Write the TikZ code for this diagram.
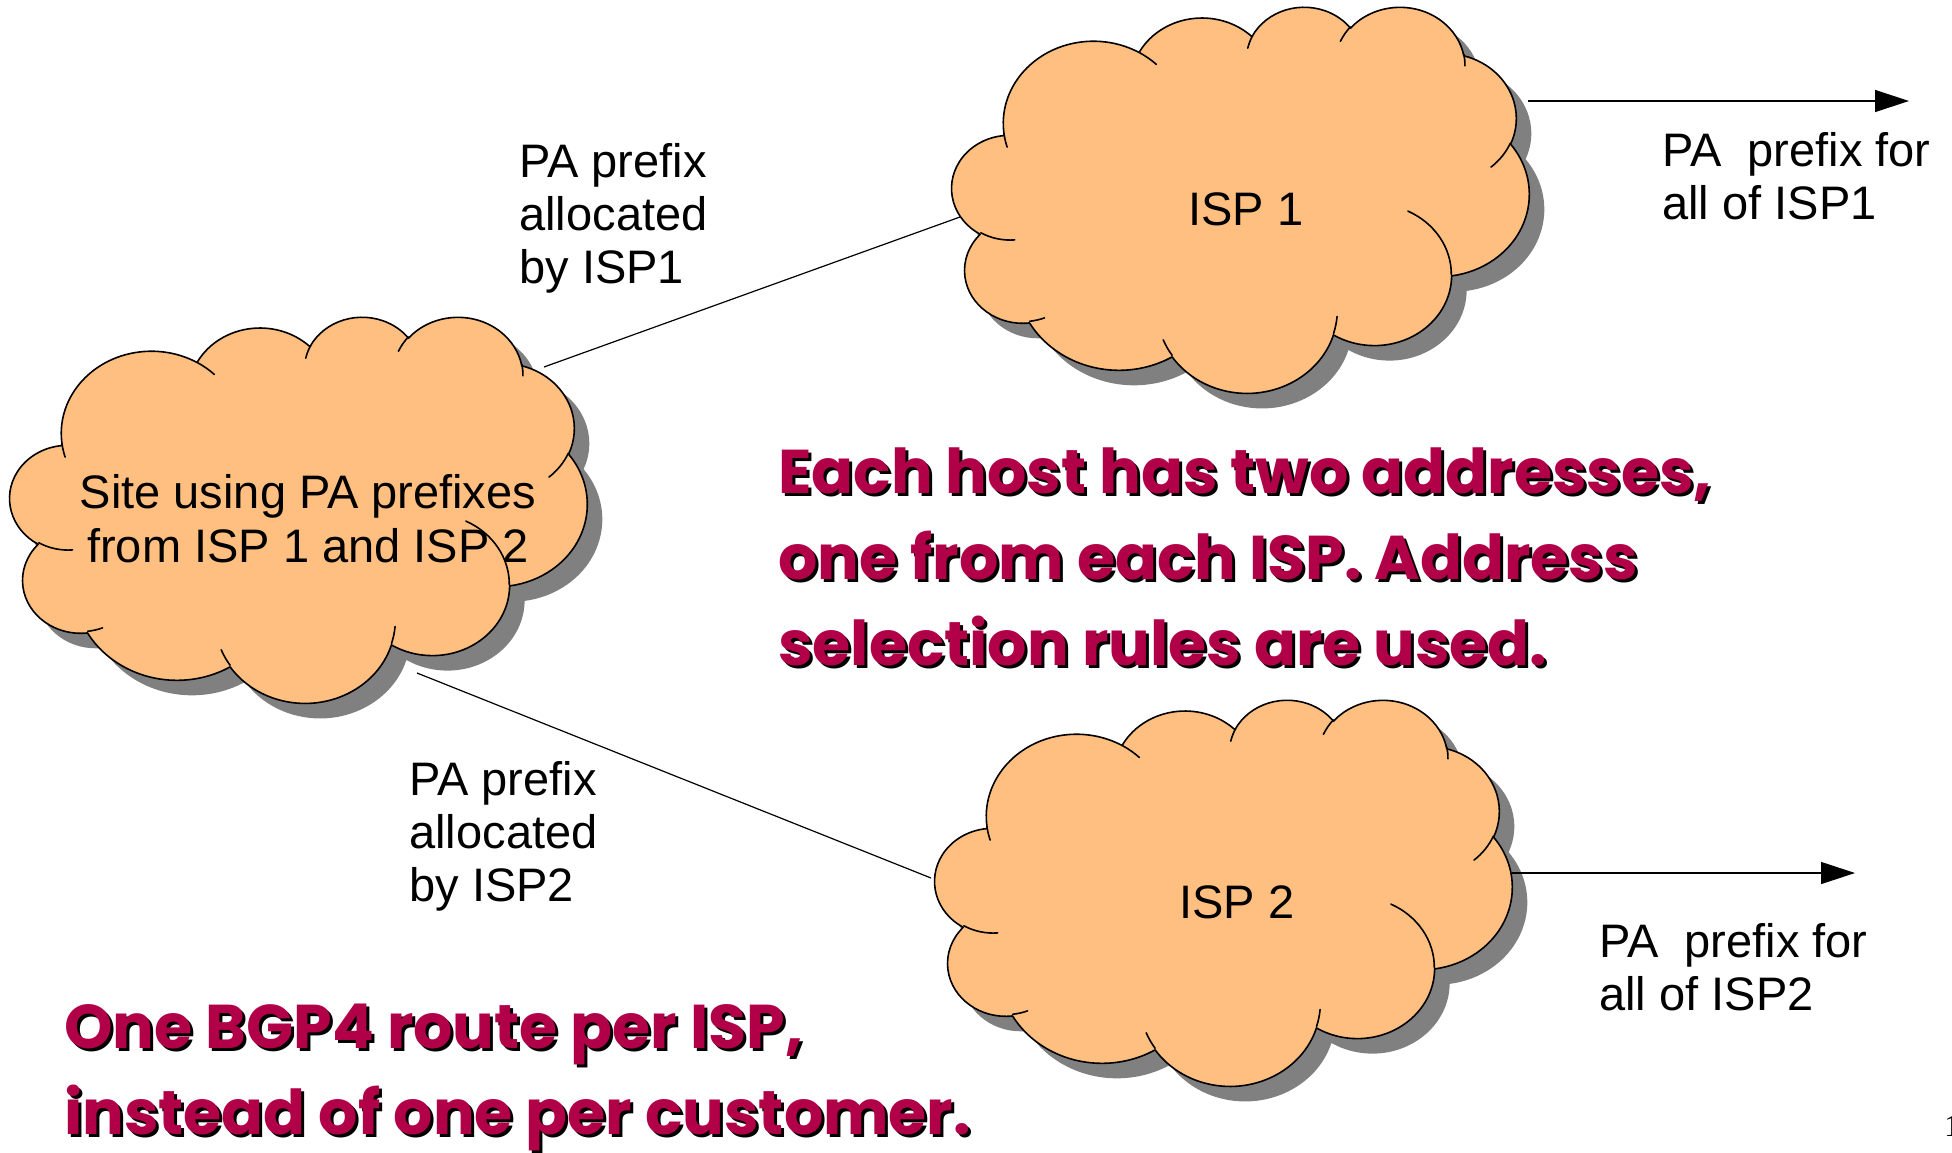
\documentclass[tikz,border=0pt]{standalone}
\usepackage{fontspec}
\setmainfont{Liberation Sans}
\newfontfamily\notefont{Poppins}
\newfontfamily\pagefont{Liberation Serif}
\usetikzlibrary{arrows.meta}

\definecolor{cloudorange}{RGB}{255,191,128}
\definecolor{cloudshade}{RGB}{128,128,128}
\definecolor{noteink}{RGB}{178,0,72}

% One elliptic arc of the cloud outline, given as in a 4320x4320 frame:
% radii, start angle and sweep measured as true (visual) angles.
% The style stores the equivalent parametric angles for TikZ's arc.
\newcommand\cloudarc[5]{%
  \pgfmathsetmacro\cloudS{atan2(#2*sin(#4),#3*cos(#4))}%
  \pgfmathsetmacro\cloudE{atan2(#2*sin(#4+#5),#3*cos(#4+#5))}%
  \pgfmathsetmacro\cloudD{\cloudE-\cloudS}%
  \pgfmathsetmacro\cloudD{\cloudD-360*round((\cloudD-(#5))/360)}%
  \edef\cloudTmp{\noexpand\tikzset{#1/.style={start angle=\cloudS,delta angle=\cloudD,x radius=#2,y radius=#3}}}%
  \cloudTmp}

% outline arcs
\cloudarc{oarcA}{675.3}{919.0}{-190.48748}{123.78053}
\cloudarc{oarcB}{533.3}{726.7}{-144.10238}{89.94523}
\cloudarc{oarcC}{436.5}{594.5}{-145.80792}{99.72302}
\cloudarc{oarcD}{485.7}{659.5}{-130.98607}{117.24173}
\cloudarc{oarcE}{533.3}{727.3}{-78.70888}{109.02692}
\cloudarc{oarcF}{677.5}{922.0}{-46.26725}{130.26900}
\cloudarc{oarcG}{578.5}{786.7}{0.62502}{114.03333}
\cloudarc{oarcH}{675.2}{921.5}{22.45160}{115.17255}
\cloudarc{oarcI}{772.0}{1054.3}{66.24263}{75.71102}
\cloudarc{oarcJ}{436.0}{591.8}{-274.94208}{146.73557}
\cloudarc{oarcK}{434.5}{594.5}{-246.82850}{152.51885}
% short inner arcs where the bumps overlap
\cloudarc{tarcA}{434.5}{594.5}{86.74200}{26.42950}
\cloudarc{tarcB}{436.0}{591.8}{73.61047}{11.44747}
\cloudarc{tarcC}{675.2}{921.5}{137.62415}{14.08110}
\cloudarc{tarcD}{675.2}{921.5}{6.45327}{15.99835}
\cloudarc{tarcE}{578.5}{786.7}{-70.29235}{70.91737}
\cloudarc{tarcF}{533.3}{727.3}{30.31803}{27.75150}
\cloudarc{tarcG}{485.7}{659.5}{-13.74433}{14.85890}
\cloudarc{tarcH}{485.7}{659.5}{-149.18145}{18.19537}
\cloudarc{tarcI}{436.5}{594.5}{-163.49427}{17.68635}
\cloudarc{tarcJ}{675.3}{919.0}{-66.70695}{12.31935}
\cloudarc{tarcK}{675.3}{919.0}{157.65435}{11.85817}

\newcommand\cloudpath{(390,1437) arc[oarcA] arc[oarcB] arc[oarcC] arc[oarcD]
  arc[oarcE] arc[oarcF] arc[oarcG] arc[oarcH] arc[oarcI] arc[oarcJ] arc[oarcK] -- cycle}
\newcommand\cloudtails{(469.3,2617.7) arc[tarcA] (692.8,3489.9) arc[tarcB]
  (1647.8,3909.0) arc[tarcC] (2882.7,3475.1) arc[tarcD] (3412.9,2295.4) arc[tarcE]
  (4179.8,1535.4) arc[tarcF] (3832.4,542.6) arc[tarcG] (2907.8,395.2) arc[tarcH]
  (2214.1,472.0) arc[tarcI] (1400.0,519.2) arc[tarcJ] (412.7,1578.9) arc[tarcK]}

% cloud with drop shadow; #1,#2 = top left corner of its frame (px)
\newcommand\drawcloud[2]{%
  \begin{scope}[shift={(#1*0.5pt,-#2*0.5pt)}, x=0.0667824pt, y=-0.0446759pt]
    \fill[cloudshade, shift={(7.5pt,-7.5pt)}] \cloudpath;
    \filldraw[cloudbody] \cloudpath;
    \draw[cloudedge] \cloudtails;
  \end{scope}}

\tikzset{
  cloudbody/.style={fill=cloudorange, draw=black, line width=0.8pt, line join=round},
  cloudedge/.style={draw=black, line width=0.8pt, line cap=round},
  lbl/.style={inner sep=0pt, align=left, anchor=base west,
    font=\fontsize{23.5pt}{26.5pt}\selectfont},
  cloudlbl/.style={inner sep=0pt, align=center, anchor=base,
    font=\fontsize{23.5pt}{27pt}\selectfont},
  note/.style={inner sep=0pt, align=left, anchor=base west, text=noteink,
    font=\notefont\bfseries\fontsize{30.9pt}{43pt}\selectfont},
  noteshadow/.style={note, text=black},
  link/.style={draw=black, line width=0.6pt},
  route/.style={link, -{Triangle[length=17pt, width=11pt]}}
}

\begin{document}
\begin{tikzpicture}[x=0.5pt, y=-0.5pt]
\useasboundingbox (0,0) rectangle (1952,1152);

% clouds
\drawcloud{10}{316}
\drawcloud{952}{6}
\drawcloud{935}{699}

% multi-line nodes are placed by the baseline of their last line
\node[cloudlbl] (site) at (308,562) {Site using PA prefixes\\from ISP 1 and ISP 2};
\node[cloudlbl] (isp1) at (1246,225) {ISP 1};
\node[cloudlbl] (isp2) at (1237,918) {ISP 2};

% connector ends on the cloud rims
\coordinate (site-up)   at (544,367);
\coordinate (isp1-in)   at (960,217);
\coordinate (site-down) at (417,673);
\coordinate (isp2-in)   at (931,878);
\coordinate (isp1-out)  at (1528,101);
\coordinate (isp1-tip)  at (1909,101);
\coordinate (isp2-out)  at (1512,873);
\coordinate (isp2-tip)  at (1855,873);

\draw[link] (site-up) -- (isp1-in);
\draw[link] (site-down) -- (isp2-in);
\draw[route] (isp1-out) -- (isp1-tip);
\draw[route] (isp2-out) -- (isp2-tip);

% labels
\node[lbl] (alloc1) at (519,283) {PA prefix\\allocated\\by ISP1};
\node[lbl] (alloc2) at (409,901) {PA prefix\\allocated\\by ISP2};
\node[lbl] (agg1) at (1662,219) {PA\ \ prefix for\\all of ISP1};
\node[lbl] (agg2) at (1599,1010) {PA\ \ prefix for\\all of ISP2};

% notes with drop shadow
\node[noteshadow] (hosts-shadow) at (781,668)
  {Each host has two addresses,\\one from each ISP. Address\\selection rules are used.};
\node[note] (hosts) at (778,665)
  {Each host has two addresses,\\one from each ISP. Address\\selection rules are used.};
\node[noteshadow] (bgp-shadow) at (67,1137)
  {One BGP4 route per ISP,\\instead of one per customer.};
\node[note] (bgp) at (64,1134)
  {One BGP4 route per ISP,\\instead of one per customer.};

% page number at the right edge
\node[inner sep=0pt, anchor=base west, font=\pagefont\fontsize{15.5pt}{18pt}\selectfont]
  (pagenum) at (1944,1136) {1};
\end{tikzpicture}
\end{document}
